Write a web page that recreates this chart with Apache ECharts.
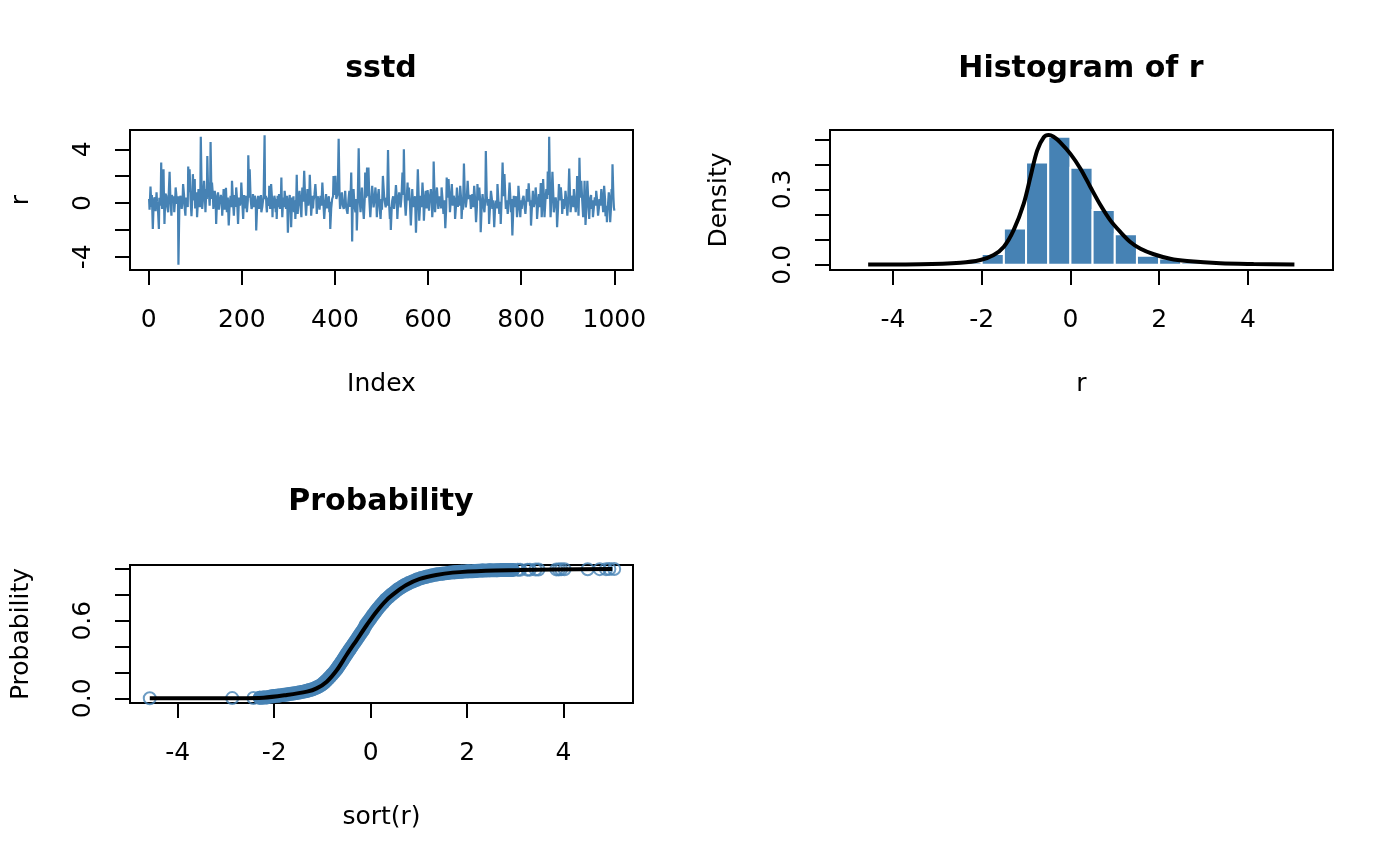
<!DOCTYPE html>
<html>
<head>
<meta charset="utf-8">
<script src="https://cdn.jsdelivr.net/npm/echarts@6/dist/echarts.min.js"></script>
<style>
  html, body { margin: 0; padding: 0; background: #fff; }
  #chart { width: 1400px; height: 866px; }
</style>
</head>
<body>
<div id="chart"></div>
<script>
// --- panel 1: simulated sstd series ---
const tsIndex = [1,2,4,6,7,9,11,13,15,17,18,20,22,23,25,26,27,28,29,30,32,33,34,36,38,40,42,43,45,47,49,50,52,54,55,57,58,60,61,63,64,66,68,70,71,73,74,76,77,79,80,82,84,85,87,88,90,92,94,95,97,99,100,101,103,104,106,107,109,110,111,112,114,115,117,119,121,122,123,124,125,126,128,129,130,131,132,133,135,136,138,139,141,142,144,145,147,149,151,153,155,156,157,158,160,161,163,165,166,167,168,170,172,174,176,178,179,181,183,185,186,187,188,190,192,194,196,198,199,201,203,205,206,208,209,210,211,213,214,216,217,219,221,223,224,226,228,230,231,233,235,236,237,239,240,241,242,244,
  245,247,249,250,252,253,254,255,256,258,259,260,261,262,263,265,266,267,268,269,270,272,273,274,275,276,277,279,280,281,282,284,285,286,287,289,290,291,292,294,295,296,297,298,299,301,302,303,304,305,306,308,310,311,312,314,315,317,318,319,320,322,324,326,328,329,330,332,334,336,338,340,341,342,343,345,346,348,349,351,352,353,354,356,358,360,361,363,365,367,369,371,373,375,377,379,381,383,385,387,388,389,390,392,394,396,397,399,401,403,404,406,408,410,411,413,415,417,419,421,422,424,427,429,431,433,435,436,437,438,440,442,444,446,447,449,451,453,455,457,458,460,462,464,465,467,469,471,472,474,476,478,480,482,483,485,487,489,490,492,494,496,498,500,501,503,506,
  509,511,512,514,516,518,519,520,522,523,525,527,529,531,533,534,536,538,540,541,543,545,547,548,550,552,554,556,557,559,561,563,565,566,568,570,572,574,576,578,580,581,583,584,586,588,590,591,593,595,597,599,601,602,604,606,608,609,611,612,614,615,617,619,621,622,624,626,628,629,631,633,635,637,639,640,642,644,646,647,649,651,653,655,657,658,660,662,664,665,667,669,671,672,674,675,677,679,681,683,685,687,688,690,692,694,695,697,699,701,703,705,706,708,710,712,713,715,717,719,721,723,724,726,728,730,731,733,735,737,738,740,742,744,746,748,749,751,753,755,756,758,760,762,764,766,767,769,
  771,773,775,777,778,779,781,783,784,786,787,789,791,793,794,796,798,800,801,803,805,807,809,811,812,814,816,818,819,820,821,823,825,827,829,830,831,833,834,836,838,840,842,843,844,846,847,849,850,852,854,856,857,859,860,862,863,865,867,869,870,872,874,876,877,879,881,883,885,887,888,890,892,894,895,897,899,901,903,905,906,908,910,912,913,915,917,919,920,922,923,924,925,927,929,931,933,935,936,937,938,940,942,944,946,947,948,950,951,953,954,956,958,960,961,963,965,967,968,970,972,974,976,977,978,980,981,983,984,986,988,990,991,993,994,995,996,998,999,1000];
const tsValue = [0.30,-0.5,1.23,-0.3,0.6,-1.93,0.2,0.42,-0.6,0.79,0.1,-0.44,-1.93,0.4,-0.20,0.5,3.01,0.2,-0.44,0.6,2.52,0.3,-1.56,0.7,0.54,-0.3,-0.69,0.5,2.32,0.1,-0.94,0.6,0.17,0.5,-0.69,0.3,1.16,0.4,-0.07,0.5,-4.60,-0.2,0.54,0.2,-0.44,0.3,1.41,0.6,-0.20,-0.94,0.4,0.54,-0.3,2.72,0.8,2.52,0.3,-0.99,0.5,2.15,0.2,1.78,-0.4,0.54,0.8,-1.06,0.2,1.04,0.5,-0.32,0.6,4.94,0.5,-0.44,0.4,1.65,0.3,-0.69,0.2,1.04,0.3,3.51,0.5,1.53,0.4,-0.20,0.7,4.54,0.3,1.53,0.6,-0.44,0.2,0.91,0.1,-1.56,0.4,0.79,-0.5,-0.44,0.6,0.30,0.5,-0.94,0.2,1.04,-0.5,0.3,1.14,0.3,-0.69,0.4,-1.68,-0.1,0.54,-0.3,1.65,0.2,-0.94,0.6,0.30,-0.3,1.16,0.2,-1.56,0.4,-0.20,0.3,1.53,0.1,-1.19,0.6,0.05,-0.4,0.54,0.1,-0.69,0.2,3.56,0.4,2.52,0.3,-0.44,-0.2,0.67,-0.3,0.54,0.1,-2.05,-0.2,0.54,0.1,-0.44,0.5,0.17,0.6,-0.69,-0.3,
  -0.20,0.6,5.05,0.3,0.54,-0.3,-0.69,0.4,0.30,-0.2,1.28,0.2,-0.44,0.5,1.41,0.3,-1.06,0.4,0.17,-0.4,0.54,0.1,-0.69,0.3,-1.19,-0.2,0.54,-0.3,0.67,0.1,-0.44,0.4,1.90,0.2,-1.06,0.4,0.30,-0.3,0.91,0.2,-0.44,0.3,0.54,-0.5,-2.22,-0.3,0.30,0.6,-0.44,0.2,-1.80,0.4,0.17,0.5,-0.69,0.2,-1.19,0.3,2.10,0.4,-0.81,0.3,0.91,-0.2,-1.06,0.2,1.16,0.1,2.40,0.4,-0.94,0.3,1.04,0.2,-0.20,0.5,2.10,0.3,-0.94,0.1,0.54,-0.4,0.17,0.6,1.41,0.3,-0.81,0.5,0.17,-0.5,0.54,-0.2,1.53,0.2,-1.19,-0.1,0.67,-0.4,0.17,0.5,-0.69,0.1,-1.93,-0.4,0.30,0.5,2.02,0.6,2.02,0.3,0.17,0.7,4.79,0.5,-0.44,0.2,0.79,-0.2,-0.44,0.3,0.91,-0.3,-0.81,0.2,0.91,-0.3,2.27,0.3,-2.86,-0.5,1.04,-0.2,-0.69,0.3,-2.05,0.2,4.07,0.3,-0.69,0.4,1.16,-0.2,-1.19,0.3,2.27,0.4,2.64,0.5,2.64,0.2,-1.06,0.2,1.28,0.3,-0.32,0.2,1.16,0.1,-1.06,0.4,1.04,-0.3,-1.19,0.3,-0.5,2.02,0.3,
  -0.32,0.4,-0.2,3.95,0.2,-1.19,-0.3,-2.00,-0.3,0.17,0.5,-0.44,0.2,1.33,0.3,-1.19,0.2,0.79,0.1,-0.32,0.5,2.27,0.6,4.00,0.2,-0.94,0.3,1.53,0.2,1.16,0.1,-1.68,-0.1,1.04,-0.3,0.17,0.5,-2.22,-0.2,2.52,0.3,-1.31,-0.1,0.54,-0.3,1.53,0.2,-1.31,0.1,0.91,-0.4,0.96,0.2,-0.57,0.4,1.04,0.1,-1.06,0.2,3.09,0.4,-0.69,0.3,1.16,0.1,-0.44,0.5,0.17,-0.4,1.16,0.3,-0.81,0.2,-1.88,-0.3,1.90,0.4,1.78,0.2,-0.69,0.3,1.41,-0.2,0.54,0.2,-1.19,-0.2,1.16,-0.3,0.54,-0.2,1.28,0.3,-1.19,0.2,-0.5,2.94,0.4,-0.32,0.3,1.65,0.3,0.17,0.6,-0.44,0.2,0.67,-0.3,1.28,0.3,-1.43,-0.2,1.41,0.2,1.16,0.1,-2.17,-0.4,0.67,-0.2,-0.69,0.4,3.88,0.5,-0.20,0.3,-1.56,-0.3,0.91,0.3,-0.44,0.2,-1.80,-0.3,0.17,-0.4,1.41,0.2,-0.81,0.1,-1.56,0.3,3.01,0.5,2.15,0.3,-0.44,0.2,
  -0.81,0.2,1.53,0.2,-0.69,0.3,-2.42,-0.4,0.54,-0.3,0.17,0.5,-1.06,-0.2,1.28,0.2,-1.06,0.2,-0.44,0.3,0.54,-0.2,-0.81,0.2,1.04,0.1,1.46,0.3,-0.20,0.2,-1.68,-0.3,0.91,-0.3,0.05,0.4,1.16,0.2,-1.19,-0.2,0.67,-0.3,1.48,0.3,-1.06,0.2,1.78,0.3,-1.06,0.2,1.04,0.3,2.35,0.6,4.94,0.4,-1.06,0.3,2.32,0.5,-0.69,-0.1,0.42,-0.3,-1.80,-0.4,1.41,0.2,1.16,0.3,-0.81,0.3,-0.44,0.2,0.91,0.2,-0.94,0.2,2.57,0.4,-0.69,0.2,0.54,-0.3,1.04,0.2,-0.69,0.3,2.02,0.3,-0.94,0.5,3.38,0.4,1.65,0.2,-1.06,0.3,1.65,0.2,-1.63,-0.3,1.65,0.2,-1.19,-0.4,0.30,0.6,-0.44,0.2,-1.06,-0.3,0.42,-0.2,0.91,0.2,-0.94,-0.3,0.30,-0.2,1.04,0.2,-0.69,0.3,1.28,0.3,-0.99,-0.2,-1.43,-0.3,0.79,0.2,-1.43,-0.2,1.04,0.3,2.89,0.4,-0.32,-0.57];
const tsXTicks = [0, 200, 400, 600, 800, 1000];
const tsYTicks = [-4, -2, 0, 2, 4];
const tsYLabels = [-4, 0, 4];

// --- panel 2: histogram + fitted density ---
const histBreaks = [-5,-4.5,-4,-3.5,-3,-2.5,-2,-1.5,-1,-0.5,0,0.5,1,1.5,2,2.5,3,3.5,4,4.5,5,5.5];
const histDensity = [0.002,0,0,0,0.002,0.010,0.043,0.145,0.408,0.510,0.387,0.218,0.122,0.036,0.025,0.010,0.008,0.006,0.004,0.004,0.002];
const densX = [-4.56,-3.38,-2.48,-2.03,-1.73,-1.50,-1.28,-1.05,-0.90,-0.75,-0.60,-0.49,-0.38,-0.23,0,0.23,0.45,0.68,0.90,1.13,1.35,1.58,1.88,2.25,2.63,3.38,4.13,5.05];
const densY = [0.001,0.002,0.008,0.019,0.039,0.072,0.138,0.245,0.351,0.455,0.508,0.517,0.510,0.488,0.442,0.382,0.310,0.237,0.177,0.130,0.091,0.064,0.042,0.024,0.015,0.006,0.003,0.001];
const histXTicks = [-4, -2, 0, 2, 4];
const histYTicks = [0, 0.1, 0.2, 0.3, 0.4, 0.5];
const histYLabels = [0, 0.3];

// --- panel 3: empirical points and fitted probability ---
const probX = [-4.58,-2.87,-2.43,-2.30,-2.22,-2.15,-2.05,-1.98,-1.90,-1.82,-1.74,-1.67,-1.60,-1.52,-1.45,-1.38,-1.32,-1.26,-1.20,-1.15,-1.10,-1.05,-1.00,-0.96,-0.92,-0.88,-0.84,-0.80,-0.76,-0.72,-0.68,-0.64,-0.60,-0.56,-0.52,-0.48,-0.44,-0.40,-0.35,-0.30,-0.25,-0.20,-0.15,-0.10,-0.05,0.00,0.05,0.10,0.15,0.20,0.26,0.32,0.38,0.44,0.50,0.57,0.64,0.71,0.79,0.87,0.96,1.05,1.15,1.26,1.37,1.49,1.61,1.74,1.88,2.02,2.17,2.32,2.47,2.62,2.77,2.92,2.95,3.05,3.10,3.25,3.30,3.42,3.48,3.85,3.90,3.95,4.02,4.50,4.75,4.88,4.95,5.05];
const probY = [0.001,0.002,0.003,0.004,0.006,0.008,0.016,0.019,0.022,0.026,0.030,0.034,0.038,0.043,0.048,0.053,0.058,0.064,0.071,0.079,0.088,0.098,0.110,0.123,0.137,0.152,0.168,0.184,0.201,0.220,0.240,0.261,0.283,0.306,0.329,0.352,0.374,0.396,0.423,0.450,0.478,0.505,0.532,0.567,0.593,0.618,0.645,0.670,0.694,0.716,0.741,0.766,0.786,0.805,0.823,0.843,0.860,0.876,0.891,0.904,0.918,0.930,0.940,0.950,0.958,0.964,0.970,0.975,0.979,0.982,0.985,0.988,0.990,0.991,0.992,0.993,0.993,0.994,0.994,0.995,0.995,0.996,0.996,0.997,0.997,0.998,0.998,0.998,0.999,0.999,0.9995,0.9995];
const cdfX = [-4.58,-3.80,-2.91,-2.22,-1.74,-1.32,-1.12,-0.91,-0.70,-0.50,-0.29,-0.08,0.12,0.33,0.54,0.74,1.02,1.36,1.70,2.39,3.08,3.77,5.01];
const cdfY = [0,0,0.001,0.005,0.026,0.052,0.077,0.129,0.219,0.335,0.451,0.567,0.670,0.760,0.825,0.876,0.923,0.954,0.972,0.987,0.992,0.997,1.0];
const probXTicks = [-4, -2, 0, 2, 4];
const probYTicks = [0, 0.2, 0.4, 0.6, 0.8, 1.0];
const probYLabels = [0, 0.6];

const steel = '#4682B4';
const font = 'DejaVu Sans';

const chart = echarts.init(document.getElementById('chart'), null, { renderer: 'canvas' });

// R-like axis: ticks outside, only chosen values labelled
function rAxis(gridIndex, min, max, ticks, labels, name, nameGap, fmt) {
  return {
    type: 'value',
    gridIndex,
    min,
    max,
    name,
    nameLocation: 'middle',
    nameGap,
    nameTextStyle: { color: '#000', fontFamily: font, fontSize: 25 },
    axisLine: { show: false, onZero: false },
    splitLine: { show: false },
    axisTick: {
      show: true,
      length: 15,
      customValues: ticks,
      lineStyle: { color: '#000', width: 2 },
    },
    axisLabel: {
      show: true,
      customValues: labels,
      color: '#000',
      fontFamily: font,
      fontSize: 25,
      formatter: fmt || ((v) => String(v)),
    },
  }
}

function xAx(gridIndex, min, max, ticks, name) {
  const ax = rAxis(gridIndex, min, max, ticks, ticks, name, 102)
  ax.axisLabel.margin = 38
  return ax
}

function yAx(gridIndex, min, max, ticks, labels, name, nameGap, fmt) {
  const ax = rAxis(gridIndex, min, max, ticks, labels, name, nameGap, fmt)
  ax.axisLabel.rotate = 90
  ax.axisLabel.margin = 34
  return ax
}

const gridStyle = { show: true, borderColor: '#000', borderWidth: 2, backgroundColor: 'transparent', outerBoundsMode: 'none' };

const titleStyle = { color: '#000', fontFamily: font, fontSize: 30, fontWeight: 'bold' };

// the dense middle of the sorted sample, where the circles merge into a band
const bandPoints = probX.map((x, i) => [x, probY[i]]).filter((p) => p[0] > -2.35 && p[0] < 3.0);

chart.setOption({
  animation: false,
  backgroundColor: '#fff',
  title: [
    { text: 'sstd', left: 381, top: 54, textAlign: 'center', padding: 0, textStyle: titleStyle },
    { text: 'Histogram of r', left: 1081, top: 54, textAlign: 'center', padding: 0, textStyle: titleStyle },
    { text: 'Probability', left: 381, top: 487, textAlign: 'center', padding: 0, textStyle: titleStyle },
  ],
  grid: [
    Object.assign({ left: 130, top: 130, width: 503, height: 140 }, gridStyle),
    Object.assign({ left: 830, top: 130, width: 503, height: 140 }, gridStyle),
    Object.assign({ left: 130, top: 565, width: 503, height: 138 }, gridStyle),
  ],
  xAxis: [
    xAx(0, -40, 1040, tsXTicks, 'Index'),
    xAx(1, -5.42, 5.92, histXTicks, 'r'),
    xAx(2, -4.99, 5.44, probXTicks, 'sort(r)'),
  ],
  yAxis: [
    yAx(0, -4.99, 5.44, tsYTicks, tsYLabels, 'r', 96),
    yAx(1, -0.0207, 0.537, histYTicks, histYLabels, 'Density', 98, (v) => v.toFixed(1)),
    yAx(2, -0.036, 1.031, probYTicks, probYLabels, 'Probability', 96, (v) => v.toFixed(1)),
  ],
  series: [
    {
      name: 'r',
      type: 'line',
      xAxisIndex: 0,
      yAxisIndex: 0,
      data: tsIndex.map((x, i) => [x, tsValue[i]]),
      showSymbol: false,
      lineStyle: { color: steel, width: 2.2 },
      clip: true,
    },
    {
      name: 'hist',
      type: 'custom',
      xAxisIndex: 1,
      yAxisIndex: 1,
      data: histDensity.map((d, i) => [histBreaks[i], histBreaks[i + 1], d]),
      renderItem: (params, api) => {
        const p0 = api.coord([api.value(0), api.value(2)])
        const p1 = api.coord([api.value(1), 0])
        return {
          type: 'rect',
          shape: { x: p0[0], y: p0[1], width: p1[0] - p0[0], height: p1[1] - p0[1] },
          style: { fill: steel, stroke: '#fff', lineWidth: 2 },
        }
      },
    },
    {
      name: 'density',
      type: 'line',
      xAxisIndex: 1,
      yAxisIndex: 1,
      data: densX.map((x, i) => [x, densY[i]]),
      smooth: 0.3,
      showSymbol: false,
      lineStyle: { color: '#000', width: 4 },
      z: 5,
    },
    {
      name: 'band',
      type: 'line',
      xAxisIndex: 2,
      yAxisIndex: 2,
      data: bandPoints,
      smooth: 0.3,
      showSymbol: false,
      lineStyle: { color: steel, width: 14, cap: 'round', join: 'round' },
    },
    {
      name: 'points',
      type: 'scatter',
      xAxisIndex: 2,
      yAxisIndex: 2,
      data: probX.map((x, i) => [x, probY[i]]),
      symbol: 'circle',
      symbolSize: 12,
      itemStyle: { color: 'rgba(0,0,0,0)', borderColor: steel, borderWidth: 2 },
    },
    {
      name: 'cdf',
      type: 'line',
      xAxisIndex: 2,
      yAxisIndex: 2,
      data: cdfX.map((x, i) => [x, cdfY[i]]),
      smooth: 0.3,
      showSymbol: false,
      lineStyle: { color: '#000', width: 4 },
      z: 5,
    },
  ],
})
</script>
</body>
</html>
